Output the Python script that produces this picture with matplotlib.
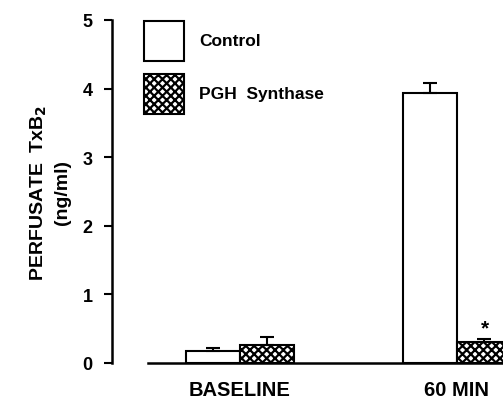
import numpy as np
import matplotlib
matplotlib.use('Agg')
import matplotlib.pyplot as plt
from matplotlib.patches import Rectangle

plt.rcParams['font.family'] = ['Liberation Sans', 'DejaVu Sans']
plt.rcParams['font.weight'] = 'bold'
plt.rcParams['hatch.linewidth'] = 1.6

groups = ['BASELINE', '60 MIN']
control = [0.18, 3.94]
control_err = [0.04, 0.14]
pgh = [0.26, 0.31]
pgh_err = [0.12, 0.04]

fig = plt.figure(figsize=(5.03, 4.02), dpi=100)
ax = fig.add_axes([148 / 503, 38 / 402, 1 - 148 / 503, 343 / 402])

x = np.arange(len(groups))
w = 0.25
ax.bar(x - w / 2, control, w, color='white', edgecolor='black', linewidth=1.5,
       yerr=[np.zeros(2), control_err], error_kw=dict(ecolor='black', elinewidth=1.5, capsize=5, capthick=1.5))
ax.bar(x + w / 2, pgh, w, color='white', edgecolor='black', linewidth=1.5, hatch='xxxx',
       yerr=[np.zeros(2), pgh_err], error_kw=dict(ecolor='black', elinewidth=1.5, capsize=5, capthick=1.5))
ax.text(1 + w / 2 + 0.005, pgh[1] + pgh_err[1] + 0.03, '*', ha='center', va='bottom', fontsize=15, fontweight='bold')

ax.set_xlim(-0.424, 1.212)
ax.set_ylim(0, 5)
ax.set_yticks([0, 1, 2, 3, 4, 5])
ax.set_xticks(x)
ax.set_xticklabels(groups, fontsize=14.5, fontweight='bold')
ax.tick_params(axis='x', length=0, pad=12)
ax.tick_params(axis='y', labelsize=13, width=1.5, length=6, pad=8)

for s in ['top', 'right']:
    ax.spines[s].set_visible(False)
ax.spines['left'].set_position(('outward', 26))
ax.spines['left'].set_linewidth(1.8)
ax.spines['bottom'].set_linewidth(1.8)

ax.set_ylabel('PERFUSATE  TxB$_\\mathbf{2}$\n(ng/ml)', fontsize=14, fontweight='bold', labelpad=8, linespacing=1.4)

# legend boxes
fig.patches.append(Rectangle((144 / 503, 1 - 62 / 402), 40 / 503, 40 / 402, transform=fig.transFigure,
                             facecolor='white', edgecolor='black', linewidth=1.5))
fig.patches.append(Rectangle((144 / 503, 1 - 115 / 402), 40 / 503, 40 / 402, transform=fig.transFigure,
                             facecolor='white', edgecolor='black', linewidth=1.5, hatch='xxxx'))
fig.text(199 / 503, 1 - 42 / 402, 'Control', fontsize=12.5, fontweight='bold', va='center')
fig.text(199 / 503, 1 - 95 / 402, 'PGH  Synthase', fontsize=12.5, fontweight='bold', va='center')

fig.savefig('out.png', dpi=100)
